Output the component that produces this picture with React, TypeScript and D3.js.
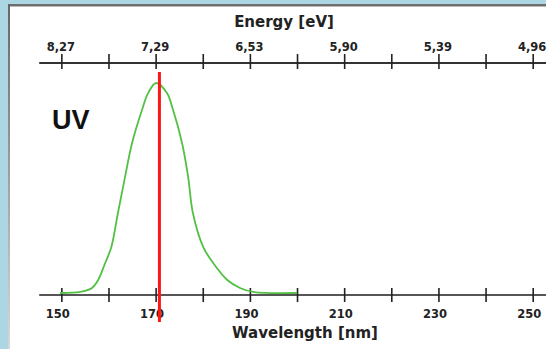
import React from "react";
import * as d3 from "d3";

const W = 546;
const H = 349;

// UV spectrum (wavelength nm, relative intensity %)
const wavelengths = [149.6, 153.9, 156.4, 157.7, 159.2, 160.5, 161.9, 163.4, 164.9, 167.0, 168.3, 170.0, 172.3, 173.6, 175.5, 176.8, 177.8, 180.0, 182.1, 185.1, 187.8, 190.6, 199.9];
const intensities = [0, 0.5, 2.4, 6.2, 14.3, 21.9, 38.1, 55.2, 71.4, 87.1, 95.2, 100, 95.2, 87.1, 71.4, 55.2, 38.1, 21.9, 14.3, 6.2, 2.4, 0.5, 0];

const markerWavelength = 170.7;

const wavelengthTicks = [150, 170, 190, 210, 230, 250];
const minorTicks = [160, 180, 200, 220, 240];
const energyLabels = ["8,27", "7,29", "6,53", "5,90", "5,39", "4,96"];

const axisStart = 145.2;
const axisEnd = 254;

export default function App() {
  const x = d3.scaleLinear().domain([150, 250]).range([61.85, 533.2]);
  const y = d3.scaleLinear().domain([0, 100]).range([293, 83]);

  const data = wavelengths.map((w, i) => ({ w, v: intensities[i] }));
  const line = d3
    .line<{ w: number; v: number }>()
    .x((d) => x(d.w))
    .y((d) => y(d.v))
    .curve(d3.curveCatmullRom.alpha(0.5));

  const topY = 63;
  const botY = 295;
  const font = "'DejaVu Sans', Verdana, sans-serif";
  const allTicks = [...wavelengthTicks, ...minorTicks];

  return (
    <svg
      width={W}
      height={H}
      style={{ position: "absolute", left: 0, top: 0 }}
      xmlns="http://www.w3.org/2000/svg"
    >
      <defs>
        <linearGradient id="leftBorder" x1="0" y1="0" x2="0" y2="1">
          <stop offset="0" stopColor="#666" />
          <stop offset="1" stopColor="#d8d8d8" />
        </linearGradient>
      </defs>
      <rect x={0} y={0} width={W} height={H} fill="#add6e3" />
      <rect x={9} y={5} width={W - 9} height={H - 5} fill="#ffffff" />
      <rect x={8} y={4} width={W - 8} height={2} fill="#6e6e6e" />
      <rect x={8} y={6} width={W - 8} height={1} fill="#b8b8b8" />
      <rect x={8} y={4} width={2} height={H - 4} fill="url(#leftBorder)" />

      {/* Top energy axis */}
      <line x1={x(axisStart)} x2={x(axisEnd)} y1={topY} y2={topY} stroke="#333" strokeWidth={2} />
      {allTicks.map((t) => (
        <line key={"tt" + t} x1={x(t)} x2={x(t)} y1={topY - 9} y2={topY + 6} stroke="#222" strokeWidth={1.6} />
      ))}
      {wavelengthTicks.map((t, i) => (
        <text
          key={"el" + t}
          x={x(t) - 1}
          y={51}
          textAnchor="middle"
          fontFamily={font}
          fontWeight="bold"
          fontSize={11.5}
          fill="#222"
        >
          {energyLabels[i]}
        </text>
      ))}
      <text x={284} y={27} textAnchor="middle" fontFamily={font} fontWeight="bold" fontSize={15} fill="#222">
        Energy [eV]
      </text>

      {/* Bottom wavelength axis */}
      <line x1={x(axisStart)} x2={x(axisEnd)} y1={botY} y2={botY} stroke="#555" strokeWidth={2} />
      {allTicks.map((t) => (
        <line key={"bt" + t} x1={x(t)} x2={x(t)} y1={botY - 7} y2={botY + 7} stroke="#222" strokeWidth={1.6} />
      ))}
      {wavelengthTicks.map((t) => (
        <text
          key={"wl" + t}
          x={x(t) - 4}
          y={318}
          textAnchor="middle"
          fontFamily={font}
          fontWeight="bold"
          fontSize={11.5}
          fill="#222"
        >
          {t}
        </text>
      ))}
      <text x={305} y={338} textAnchor="middle" fontFamily={font} fontWeight="bold" fontSize={15} fill="#222">
        Wavelength [nm]
      </text>

      {/* Spectrum */}
      <path d={line(data) || ""} fill="none" stroke="#52c043" strokeWidth={1.8} />

      {/* Marker */}
      <line
        x1={x(markerWavelength)}
        x2={x(markerWavelength)}
        y1={72}
        y2={322}
        stroke="#ff1515"
        strokeWidth={3}
      />

      <text x={52} y={129} fontFamily="'Liberation Sans', Arial, sans-serif" fontWeight="bold" fontSize={27} fill="#111">
        UV
      </text>
    </svg>
  );
}
